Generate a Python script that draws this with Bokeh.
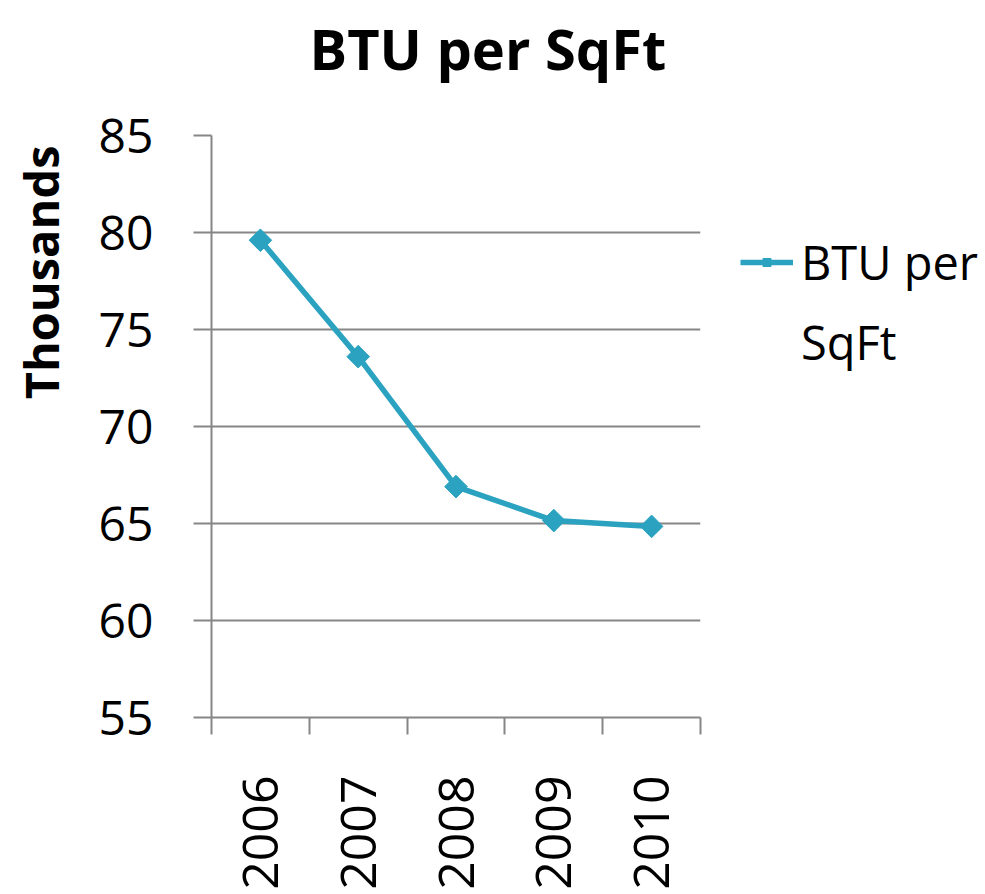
import math
from bokeh.plotting import figure
from bokeh.models import (FixedTicker, Title, Legend, LegendItem, ColumnDataSource)
from bokeh.embed import file_html
from bokeh.resources import INLINE

# ---- data ----
years = ["2006", "2007", "2008", "2009", "2010"]
btu_thousands = [79.6, 73.6, 66.9, 65.15, 64.85]
y_ticks = [55, 60, 65, 70, 75, 80, 85]
title_text = "BTU per SqFt"
y_label = "Thousands"
series_lines = ["BTU per", "SqFt"]

FONT = "Open Sans"
LINE_COLOR = "#2ba3c0"
GRID_COLOR = "#868686"

xpos = [i + 0.5 for i in range(len(years))]
src = ColumnDataSource(dict(x=xpos, y=btu_thousands, year=years))

p = figure(frame_width=489, frame_height=582, output_backend="svg",
           toolbar_location=None,
           x_range=(0, len(years)), y_range=(y_ticks[0], y_ticks[-1]),
           min_border_left=211, min_border_right=285, min_border_top=135,
           min_border_bottom=177, title=None)
p.outline_line_color = None
p.background_fill_color = "white"
p.border_fill_color = "white"

# y axis
p.yaxis.ticker = FixedTicker(ticks=y_ticks)
p.yaxis.major_label_text_font = FONT
p.yaxis.major_label_text_font_size = "48px"
p.yaxis.major_label_text_color = "black"
p.yaxis.major_tick_out = 18
p.yaxis.major_tick_in = 0
p.yaxis.minor_tick_line_color = None
p.yaxis.major_label_standoff = 40
p.yaxis.axis_line_color = GRID_COLOR
p.yaxis.axis_line_width = 2
p.yaxis.major_tick_line_color = GRID_COLOR
p.yaxis.major_tick_line_width = 2

# x axis: labels at category centres, ticks at boundaries
p.xaxis.ticker = FixedTicker(ticks=xpos, minor_ticks=list(range(len(years) + 1)))
p.xaxis.major_label_overrides = {x: y for x, y in zip(xpos, years)}
p.xaxis.major_label_orientation = math.pi / 2
p.xaxis.major_label_text_font = FONT
p.xaxis.major_label_text_font_size = "50px"
p.xaxis.major_label_text_color = "black"
p.xaxis.major_tick_out = 0
p.xaxis.major_tick_in = 0
p.xaxis.major_label_standoff = 41
p.xaxis.minor_tick_out = 17
p.xaxis.minor_tick_in = 0
p.xaxis.minor_tick_line_color = GRID_COLOR
p.xaxis.minor_tick_line_width = 2
p.xaxis.axis_line_color = GRID_COLOR
p.xaxis.axis_line_width = 2

p.xgrid.grid_line_color = None
p.ygrid.ticker = FixedTicker(ticks=y_ticks)
p.ygrid.grid_line_color = GRID_COLOR
p.ygrid.grid_line_width = 2

line_r = p.line("x", "y", source=src, line_color=LINE_COLOR, line_width=5.5)
mark_r = p.scatter("x", "y", source=src, marker="square", angle=math.pi / 4,
                   size=16, fill_color=LINE_COLOR, line_color=LINE_COLOR)
# empty renderer that only carries the wrapped second line of the legend label
blank_r = p.line(x=[], y=[], line_alpha=0)

legend = Legend(items=[LegendItem(label=series_lines[0], renderers=[line_r, mark_r]),
                       LegendItem(label=series_lines[1], renderers=[blank_r])],
                location=(40, 343), padding=0, margin=0, spacing=16,
                border_line_color=None, background_fill_alpha=0,
                glyph_width=53, glyph_height=20, label_standoff=8,
                label_text_font=FONT, label_text_font_size="47px",
                label_text_color="black")
p.add_layout(legend, "right")

# title (spacer between frame and title pushes it up)
p.add_layout(Title(text=" ", text_font_size="30px"), "above")
p.add_layout(Title(text=title_text, align="left", offset=98, text_font=FONT,
                   text_font_style="bold", text_font_size="56px",
                   text_color="black"), "above")

# y label as side title near top
p.add_layout(Title(text=" ", text_font_size="6px"), "left")
p.add_layout(Title(text=y_label, align="right", offset=10, text_font=FONT,
                   text_font_style="bold", text_font_size="47px",
                   text_color="black"), "left")

open("out.html", "w").write(file_html(p, INLINE))
